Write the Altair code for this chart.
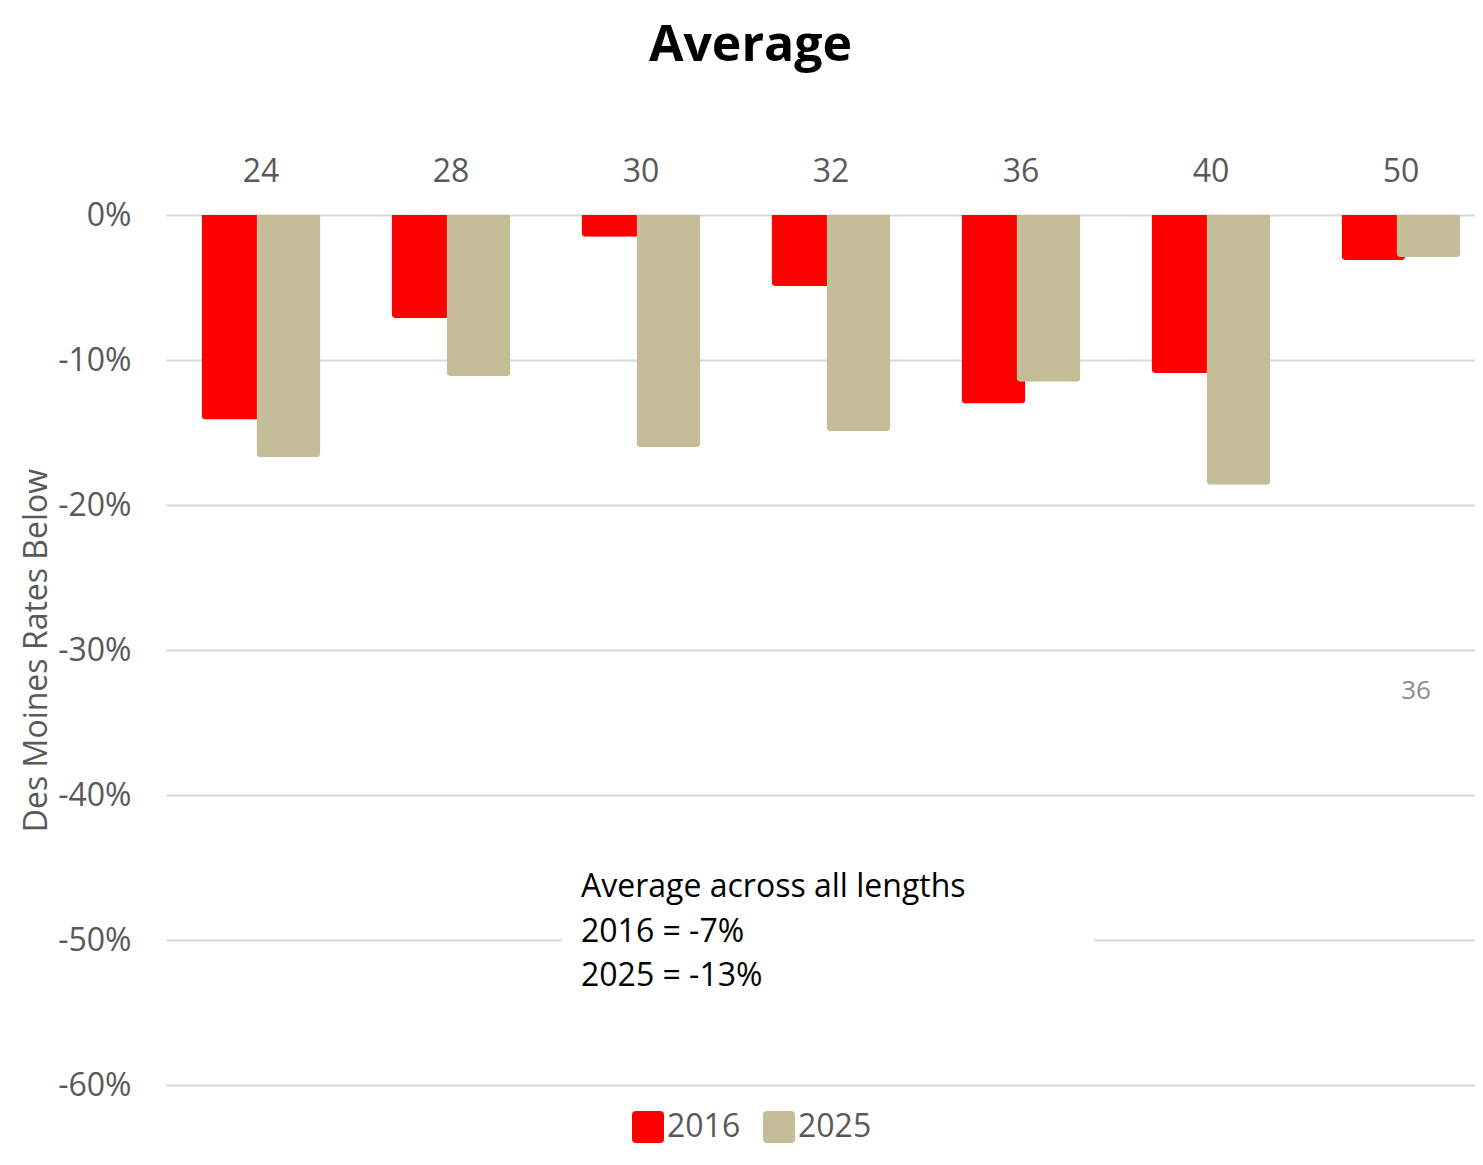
import altair as alt
import pandas as pd

# ---- data ----
categories = ["24", "28", "30", "32", "36", "40", "50"]
values_2016 = [-14.1, -7.1, -1.5, -4.9, -13.0, -10.9, -3.1]
values_2025 = [-16.7, -11.1, -16.0, -14.9, -11.5, -18.6, -2.9]
series_names = ["2016", "2025"]
series_colors = ["#FF0000", "#C5BD97"]
y_ticks = [-60, -50, -40, -30, -20, -10, 0]
annotation_lines = ["Average across all lengths", "2016 = -7%", "2025 = -13%"]
stray_category = ["50"]
stray_value = [-32.8]
stray_text = ["36"]

FONT = "Open Sans"
GREY = "#595959"

df16 = pd.DataFrame({"length": categories, "value": values_2016, "series": series_names[0]})
df25 = pd.DataFrame({"length": categories, "value": values_2025, "series": series_names[1]})
dstray = pd.DataFrame({"length": stray_category, "value": stray_value, "label": stray_text})

x_enc = alt.X(
    "length:N",
    sort=categories,
    scale=alt.Scale(domain=categories, range=[0, 1330], paddingInner=0, paddingOuter=0),
    axis=alt.Axis(
        orient="top", title=None, domain=False, ticks=False, grid=False,
        labelFont=FONT, labelFontSize=32, labelColor=GREY, labelAngle=0,
        labelBaseline="alphabetic", labelPadding=34,
    ),
)
y_enc = alt.Y(
    "value:Q",
    scale=alt.Scale(domain=[-60, 0], nice=False, zero=False),
    axis=alt.Axis(
        values=y_ticks, labelExpr="datum.value + '%'",
        title="Des Moines Rates Below", titleFont=FONT, titleFontSize=32,
        titleFontWeight="normal", titleColor=GREY, titleX=-120,
        titleBaseline="alphabetic",
        domain=False, ticks=False, grid=True, gridColor="#D9D9D9", gridWidth=2,
        labelFont=FONT, labelFontSize=32, labelColor=GREY, labelPadding=35,
    ),
)
rounded_square = (
    "M-0.75,-1 L0.75,-1 Q1,-1 1,-0.75 L1,0.75 Q1,1 0.75,1 L-0.75,1 "
    "Q-1,1 -1,0.75 L-1,-0.75 Q-1,-1 -0.75,-1 Z"
)
color_enc = alt.Color(
    "series:N",
    scale=alt.Scale(domain=series_names, range=series_colors),
    legend=alt.Legend(
        title=None, orient="none", direction="horizontal",
        legendX=466, legendY=896,
        symbolType=rounded_square, symbolSize=1024, symbolStrokeWidth=0,
        labelFont=FONT, labelFontSize=32, labelColor=GREY, labelOffset=3,
        columnPadding=22,
    ),
)

bar_style = dict(width=64, cornerRadiusBottomLeft=4, cornerRadiusBottomRight=4)
bars16 = alt.Chart(df16).mark_bar(xOffset=-27.5, **bar_style).encode(
    x=x_enc, y=y_enc, color=color_enc
)
bars25 = alt.Chart(df25).mark_bar(xOffset=27.5, **bar_style).encode(
    x=x_enc, y=y_enc, color=color_enc
)

box = alt.Chart(pd.DataFrame({"a": [0]})).mark_rect(color="white").encode(
    x=alt.value(396), x2=alt.value(928), y=alt.value(640), y2=alt.value(800)
)
note = alt.Chart(pd.DataFrame({"a": [0]})).mark_text(
    align="left", baseline="alphabetic", font=FONT, fontSize=32,
    lineHeight=44.5, color="black", lineBreak="\n",
).encode(x=alt.value(415), y=alt.value(682), text=alt.value("\n".join(annotation_lines)))

stray = alt.Chart(dstray).mark_text(
    dx=15, font=FONT, fontSize=26, color="#8C8C8C"
).encode(x=alt.X("length:N", sort=categories), y="value:Q", text="label:N")

chart = alt.layer(bars16, bars25, box, note, stray).properties(
    width=1309,
    height=870,
    autosize=alt.AutoSizeParams(type="none"),
    padding={"left": 158, "top": 207, "right": 0, "bottom": 63},
    title=alt.TitleParams(
        text="Average", font=FONT, fontSize=50, fontWeight="bold",
        color="black", anchor="middle", offset=84, dx=-70,
    ),
).configure_view(stroke=None)

chart.save("out.html", embed_options={"renderer": "svg", "actions": False})
